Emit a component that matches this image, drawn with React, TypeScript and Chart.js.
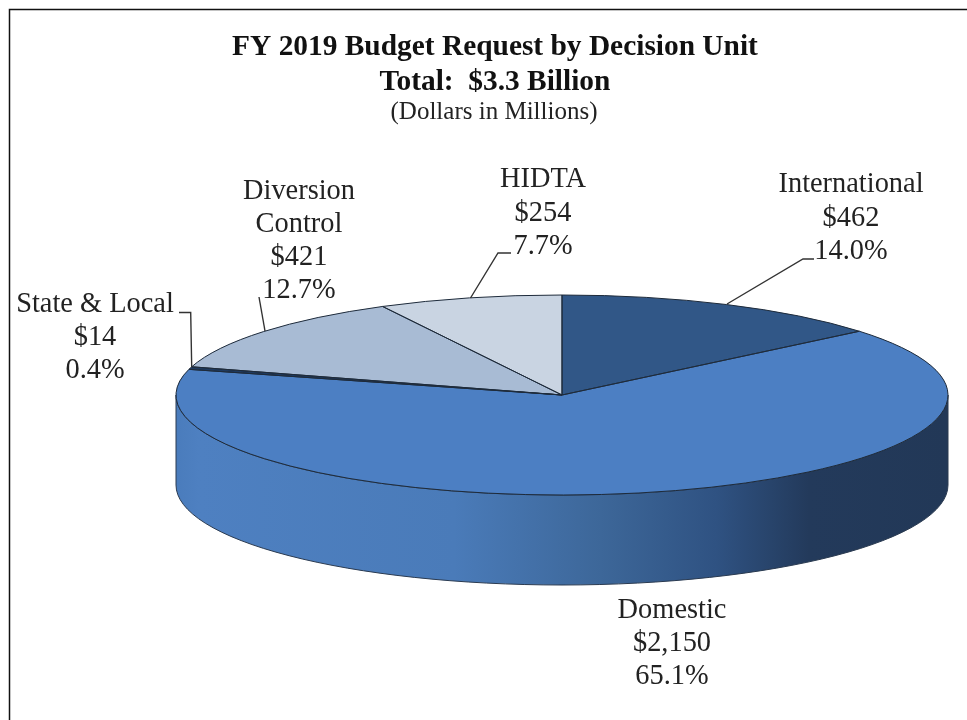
import React, { useEffect, useRef } from "react";
import { Chart, registerables } from "chart.js";

Chart.register(...registerables);

const categories = ["International", "Domestic", "State & Local", "Diversion Control", "HIDTA"];
const amounts = [462, 2150, 14, 421, 254];
const amountLabels = ["$462", "$2,150", "$14", "$421", "$254"];
const percentLabels = ["14.0%", "65.1%", "0.4%", "12.7%", "7.7%"];
const sliceColors = ["#315787", "#4C7FC3", "#1F3A5F", "#A8BBD4", "#C9D4E2"];
const titleLines = ["FY 2019 Budget Request by Decision Unit", "Total:  $3.3 Billion"];
const subtitle = "(Dollars in Millions)";

const SERIF = '"Liberation Serif", serif';
const SQUASH = 100 / 386;
const DEPTH = 90;

const labelLayout: { x: number; ys: number[]; lines: string[] }[] = [
  { x: 851, ys: [192, 226, 259], lines: [categories[0], amountLabels[0], percentLabels[0]] },
  { x: 672, ys: [618, 651, 684], lines: [categories[1], amountLabels[1], percentLabels[1]] },
  { x: 95, ys: [312, 345, 378], lines: [categories[2], amountLabels[2], percentLabels[2]] },
  { x: 299, ys: [199, 232, 265, 298], lines: ["Diversion", "Control", amountLabels[3], percentLabels[3]] },
  { x: 543, ys: [187, 221, 254], lines: [categories[4], amountLabels[4], percentLabels[4]] },
];

const leaders: number[][][] = [
  [[727, 304], [803, 259], [814, 259]],
  [[470.5, 298], [498, 253], [511, 253]],
  [[265, 331], [259, 297]],
  [[191.7, 367], [190.7, 312.5], [179, 312.5]],
];

const pie3d = {
  id: "pie3d",
  beforeDatasetsDraw(chart: any) {
    const { ctx } = chart;
    const arc = chart.getDatasetMeta(0).data[0];
    const { x, y, outerRadius: r } = arc;
    const ry = r * SQUASH;
    const grad = ctx.createLinearGradient(x - r, 0, x + r, 0);
    grad.addColorStop(0, "#4A7CBC");
    grad.addColorStop(0.03, "#4E80C1");
    grad.addColorStop(0.36, "#4A7BB9");
    grad.addColorStop(0.55, "#3D6799");
    grad.addColorStop(0.7, "#2F5282");
    grad.addColorStop(0.82, "#233A5B");
    grad.addColorStop(1, "#223857");
    ctx.save();
    ctx.beginPath();
    ctx.ellipse(x, y + DEPTH, r, ry, 0, Math.PI, 0, true);
    ctx.lineTo(x + r, y);
    ctx.ellipse(x, y, r, ry, 0, 0, Math.PI, false);
    ctx.closePath();
    ctx.fillStyle = grad;
    ctx.fill();
    ctx.strokeStyle = "#2a3a50";
    ctx.lineWidth = 1;
    ctx.stroke();
    ctx.restore();
    ctx.save();
    ctx.translate(x, y);
    ctx.scale(1, SQUASH);
    ctx.translate(-x, -y);
  },
  afterDatasetsDraw(chart: any) {
    const { ctx } = chart;
    ctx.restore();
    const arcs = chart.getDatasetMeta(0).data;
    ctx.save();
    ctx.strokeStyle = "#1d2a3a";
    ctx.lineWidth = 1;
    ctx.lineJoin = "round";
    arcs.forEach((a: any) => {
      ctx.save();
      ctx.translate(a.x, a.y);
      ctx.scale(1, SQUASH);
      ctx.beginPath();
      ctx.moveTo(0, 0);
      ctx.arc(0, 0, a.outerRadius, a.startAngle, a.endAngle);
      ctx.closePath();
      ctx.restore();
      ctx.stroke();
    });
    ctx.restore();
  },
  afterDraw(chart: any) {
    const { ctx } = chart;
    ctx.save();
    ctx.strokeStyle = "#111";
    ctx.lineWidth = 1.5;
    ctx.beginPath();
    ctx.moveTo(9.5, 720);
    ctx.lineTo(9.5, 9.5);
    ctx.lineTo(967, 9.5);
    ctx.stroke();
    ctx.fillStyle = "#111";
    ctx.textAlign = "center";
    ctx.textBaseline = "alphabetic";
    ctx.font = `bold 29.4px ${SERIF}`;
    ctx.fillText(titleLines[0], 495, 55);
    ctx.fillText(titleLines[1], 495, 90);
    ctx.font = `25px ${SERIF}`;
    ctx.fillStyle = "#222";
    ctx.fillText(subtitle, 494, 119);
    ctx.font = `28.4px ${SERIF}`;
    labelLayout.forEach((l) => l.lines.forEach((t, i) => ctx.fillText(t, l.x, l.ys[i])));
    ctx.strokeStyle = "#333";
    ctx.lineWidth = 1.4;
    leaders.forEach((pts) => {
      ctx.beginPath();
      pts.forEach((p, i) => (i ? ctx.lineTo(p[0], p[1]) : ctx.moveTo(p[0], p[1])));
      ctx.stroke();
    });
    ctx.restore();
  },
};

export default function App() {
  const ref = useRef<HTMLCanvasElement>(null);
  useEffect(() => {
    if (!ref.current) return;
    const chart = new Chart(ref.current, {
      type: "pie",
      data: {
        labels: categories,
        datasets: [
          {
            data: amounts,
            backgroundColor: sliceColors,
            borderWidth: 0,
            clip: false,
          } as any,
        ],
      },
      options: {
        responsive: false,
        animation: false,
        radius: 386,
        layout: { padding: { left: 157, top: 70, right: 0, bottom: 0 } },
        plugins: { legend: { display: false }, tooltip: { enabled: false }, title: { display: false } },
        events: [],
      } as any,
      plugins: [pie3d],
    });
    return () => chart.destroy();
  }, []);
  return (
    <canvas
      ref={ref}
      width={967}
      height={720}
      style={{ position: "absolute", left: 0, top: 0, width: 967, height: 720, background: "#fff" }}
    />
  );
}
